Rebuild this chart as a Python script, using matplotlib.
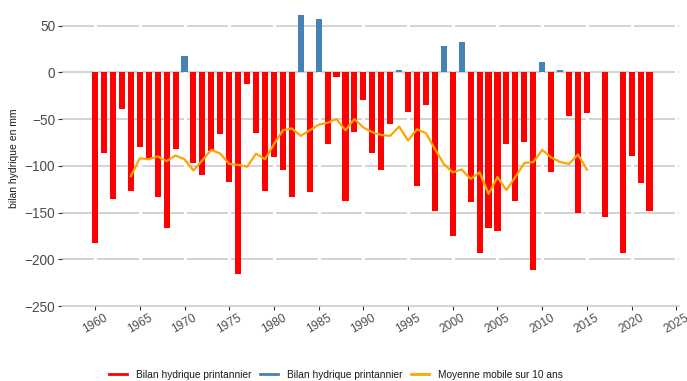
import matplotlib
matplotlib.use("Agg")
import matplotlib.pyplot as plt
import numpy as np
from matplotlib.lines import Line2D

plt.rcParams['font.family'] = ['Liberation Sans', 'DejaVu Sans']

years = [1960, 1961, 1962, 1963, 1964, 1965, 1966, 1967, 1968, 1969,
         1970, 1971, 1972, 1973, 1974, 1975, 1976, 1977, 1978, 1979,
         1980, 1981, 1982, 1983, 1984, 1985, 1986, 1987, 1988, 1989,
         1990, 1991, 1992, 1993, 1994, 1995, 1996, 1997, 1998, 1999,
         2000, 2001, 2002, 2003, 2004, 2005, 2006, 2007, 2008, 2009,
         2010, 2011, 2012, 2013, 2014, 2015, 2017, 2019, 2020, 2021, 2022]
bilan = [-183, -86, -136, -39, -127, -80, -92, -133, -167, -82,
         18, -97, -110, -84, -66, -117, -216, -12, -65, -127,
         -91, -104, -133, 61, -128, 57, -77, -5, -138, -64,
         -30, -86, -104, -55, 2, -42, -122, -35, -148, 28,
         -175, 32, -139, -193, -167, -170, -77, -138, -75, -212,
         11, -107, 2, -47, -151, -43, -155, -193, -90, -118, -148]

ma_years = list(range(1964, 2016))
moyenne_mobile = [-111, -92, -93, -90, -95, -89, -93, -105, -94, -83,
                  -87, -98, -99, -101, -87, -93, -77, -62, -60, -68,
                  -62, -56, -54, -50, -62, -50, -59, -64, -67, -68,
                  -58, -73, -61, -65, -82, -98, -107, -104, -114, -107,
                  -130, -112, -126, -112, -97, -96, -83, -91, -96, -98,
                  -88, -104]

x_ticks = list(range(1960, 2030, 5))
y_ticks = [50, 0, -50, -100, -150, -200, -250]

RED = '#FF0000'
BLUE = '#4682B4'
ORANGE = '#FFA500'
GRID = '#C8C8C8'

fig = plt.figure(figsize=(6.87, 3.81), dpi=100)
ax = fig.add_axes([62/687, 1-306/381, (679-62)/687, (306-9.7)/381])

yrs = np.array(years)
vals = np.array(bilan)
neg = vals <= 0
ax.bar(yrs[neg], vals[neg], width=0.68, color=RED, zorder=3, linewidth=0)
ax.bar(yrs[~neg], vals[~neg], width=0.68, color=BLUE, zorder=3, linewidth=0)
ax.plot(ma_years, moyenne_mobile, color=ORANGE, lw=1.6, zorder=4)

ax.set_xlim(1956.3, 2025.3)
ax.set_ylim(-250, 67)

# horizontal grid
for yv in y_ticks[:-1]:
    ax.axhline(yv, color=GRID, lw=1.1, zorder=1)
# gaps in the grid at x ticks
for xv in x_ticks:
    ax.axvline(xv, color='white', lw=2.2, zorder=2)

for s in ['top', 'right', 'left']:
    ax.spines[s].set_visible(False)
ax.spines['bottom'].set_color(GRID)
ax.spines['bottom'].set_linewidth(1.1)
ax.spines['bottom'].set_zorder(5)

ax.set_xticks(x_ticks)
ax.set_xticklabels([str(v) for v in x_ticks], rotation=30, fontsize=8.6,
                   color='#4d4d4d', ha='center')
ax.set_yticks(y_ticks)
ax.set_yticklabels([f"{v}".replace('-', '\u2212') for v in y_ticks],
                   fontsize=9.8, color='#4d4d4d')
ax.tick_params(axis='x', length=3, color='#333333', width=0.8, pad=1)
ax.tick_params(axis='y', length=3, color='#333333', width=0.8, pad=2)

ax.set_ylabel('bilan hydrique en mm', fontsize=7.5, color='#1a1a1a', labelpad=4)

handles = [Line2D([], [], color=RED, lw=2),
           Line2D([], [], color=BLUE, lw=2),
           Line2D([], [], color=ORANGE, lw=2)]
labels = ['Bilan hydrique printannier', 'Bilan hydrique printannier',
          'Moyenne mobile sur 10 ans']
fig.legend(handles, labels, loc='center', bbox_to_anchor=(0.489, 1-375/381),
           ncol=3, frameon=False, fontsize=7.3, handlelength=1.7,
           columnspacing=0.9, handletextpad=0.9, labelcolor='#1a1a1a')

fig.savefig('out.png', dpi=100)
